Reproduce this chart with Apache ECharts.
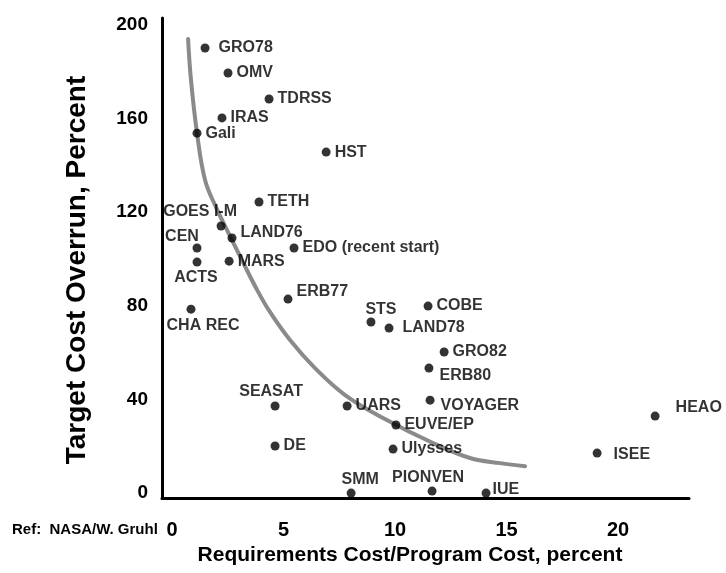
<!DOCTYPE html>
<html>
<head>
<meta charset="utf-8">
<script src="https://cdn.jsdelivr.net/npm/echarts@6/dist/echarts.min.js"></script>
<style>
html,body{margin:0;padding:0;background:#fff;}
#c{width:726px;height:573px;}
</style>
</head>
<body>
<div id="c"></div>
<script>
// ---- data ----
const names = ['GRO78','OMV','TDRSS','IRAS','Gali','HST','TETH','GOES I-M','LAND76','CEN','EDO (recent start)','ACTS','MARS','ERB77','CHA REC','STS','LAND78','COBE','GRO82','ERB80','SEASAT','UARS','VOYAGER','EUVE/EP','HEAO','DE','Ulysses','ISEE','SMM','PIONVEN','IUE'];
const reqCost = [1.48,2.51,4.35,2.24,1.12,6.91,3.90,2.20,2.69,1.12,5.47,1.12,2.56,5.20,0.85,8.92,9.73,11.48,12.2,11.52,4.62,7.85,11.57,10.04,21.66,4.62,9.91,19.06,8.03,11.66,14.08];
const overrun = [190.2,179.5,168.4,160.3,153.8,145.7,124.4,114.1,109.0,104.7,104.7,98.7,99.1,82.9,78.6,73.1,70.5,79.9,60.3,53.4,37.2,37.2,39.7,29.1,32.9,20.1,18.8,17.1,0,0.85,0];
const curveX = [0.72,0.85,1.12,1.48,1.97,2.60,3.18,3.77,4.39,5.29,6.41,7.76,9.46,11.70,13.36,14.71,15.83];
const curveY = [194.0,176.5,153.8,133.8,122.2,109.8,98.7,87.6,77.4,65.4,53.4,41.9,32.1,21.4,15.0,12.8,11.5];
const xTicks = [0,5,10,15,20];
const yTicks = [0,40,80,120,160,200];

// ---- label placement (style) ----
const labelPlace = {
  'GRO78': {offset:[5,0]}, 'LAND76': {offset:[0,-5]}, 'LAND78': {offset:[5,0]},
  'ISEE': {offset:[8,2]}, 'HEAO': {offset:[12,-8]}, 'ERB80': {offset:[2,7]},
  'ERB77': {offset:[0,-7]}, 'VOYAGER': {offset:[2,5]}, 'IUE': {offset:[-2,-3]},
  'GOES I-M': {inside:[-21,-14]}, 'CEN': {inside:[-15,-11]}, 'ACTS': {inside:[-1,15]},
  'CHA REC': {inside:[12,16]}, 'STS': {inside:[10,-12]}, 'SEASAT': {inside:[-4,-14]},
  'SMM': {inside:[9,-13]}, 'PIONVEN': {inside:[-4,-14]}
};

const FONT = '"Liberation Sans", Arial, sans-serif';

const points = names.map((n, i) => {
  const p = labelPlace[n] || {};
  const item = {name: n, value: [reqCost[i], overrun[i]]};
  if (p.inside) {
    item.label = {position: 'inside', offset: p.inside};
  } else if (p.offset) {
    item.label = {offset: p.offset};
  }
  return item;
});
const curve = curveX.map((x, i) => [x, curveY[i]]);

const chart = echarts.init(document.getElementById('c'), null, {renderer: 'canvas'});
chart.setOption({
  animation: false,
  backgroundColor: '#ffffff',
  grid: {left: 162, right: 37, top: 18, bottom: 75, containLabel: false},
  xAxis: {
    type: 'value', min: -0.45, max: 23.18,
    name: 'Requirements Cost/Program Cost, percent',
    nameLocation: 'middle', nameGap: 43,
    nameTextStyle: {fontFamily: FONT, fontWeight: 'bold', fontSize: 21, color: '#000', padding: [0, 31, 0, 0]},
    axisLine: {onZero: false, lineStyle: {color: '#000', width: 3}},
    axisTick: {show: false},
    splitLine: {show: false},
    axisLabel: {customValues: xTicks, fontFamily: FONT, fontWeight: 'bold', fontSize: 20, color: '#000', margin: 22}
  },
  yAxis: {
    type: 'value', min: -2.1, max: 203,
    name: 'Target Cost Overrun, Percent',
    nameLocation: 'middle', nameGap: 71, nameRotate: 90,
    nameTextStyle: {fontFamily: FONT, fontWeight: 'bold', fontSize: 28, color: '#000', padding: [0, 24, 0, 0]},
    axisLine: {onZero: false, lineStyle: {color: '#000', width: 3}},
    axisTick: {show: false},
    splitLine: {show: false},
    axisLabel: {customValues: yTicks, fontFamily: FONT, fontWeight: 'bold', fontSize: 19, color: '#000', margin: 14}
  },
  graphic: [{
    type: 'text', left: 12, top: 522,
    style: {text: 'Ref:  NASA/W. Gruhl', font: 'bold 15px "Liberation Sans", Arial, sans-serif', fill: '#000'}
  }],
  series: [
    {
      type: 'line', data: curve, smooth: 0.4, symbol: 'none', z: 1, silent: true,
      lineStyle: {color: '#8a8a8a', width: 4, cap: 'round'}
    },
    {
      type: 'scatter', data: points, symbol: 'circle', symbolSize: 9, z: 3, clip: false,
      itemStyle: {color: '#000'},
      label: {
        show: true, position: 'right', distance: 4,
        formatter: p => p.name,
        fontFamily: FONT, fontWeight: 'bold', fontSize: 16, color: '#000'
      }
    }
  ]
});
</script>
</body>
</html>
